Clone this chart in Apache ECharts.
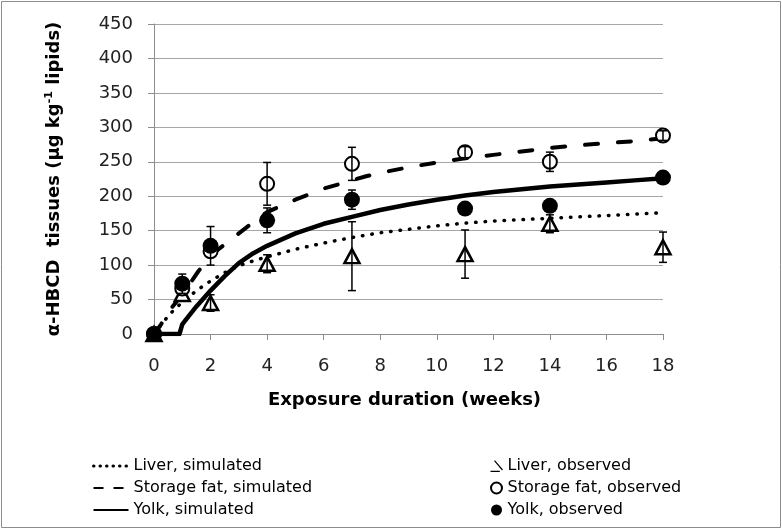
<!DOCTYPE html>
<html>
<head>
<meta charset="utf-8">
<script src="https://cdn.jsdelivr.net/npm/echarts@6/dist/echarts.min.js"></script>
<style>
html,body{margin:0;padding:0;background:#fff;}
#chart{width:782px;height:529px;}
</style>
</head>
<body>
<div id="chart"></div>
<script>
// Simulated curves [week, value]
const liverSim = [[0,0],[0.25,13],[0.5,26],[0.75,37],[1,46],[1.5,63],[2,77],[2.5,89],[3,99],[3.5,106],[4,112],[5,123],[6,132],[7,140],[8,147],[9,152],[10,157],[11,161],[12,164],[13,166],[14,168],[15,170],[16,172],[17,174],[18,176]];
const storageSim = [[0,0],[0.25,14],[0.5,32],[0.8,47],[1,58],[1.2,69],[1.55,90],[2,114],[2.5,130],[3,146],[3.5,162],[4,177],[4.5,186],[5,195],[5.5,203],[6,211],[6.5,217],[7,223],[7.5,229],[8,234],[9,242],[10,249],[11,255],[12,260],[13,265],[14,270],[15,274],[16,277],[17,280],[18,284]];
const yolkSim = [[0,0],[0.9,0],[1,14],[1.15,22],[1.5,40],[2,63],[2.5,84],[3,103],[3.5,117],[4,128],[4.5,137],[5,146],[5.5,153],[6,160],[7,170],[8,180],[9,188],[10,195],[11,201],[12,206],[13,210],[14,214],[15,217],[16,220],[17,223],[18,226]];

// Observed values
const obsWeeks = [0, 1, 2, 4, 7, 11, 14, 18];
const liverObs = [0, 58, 45, 102, 113, 116, 160, 126];
const liverErr = [0, 0, 12, 13, 50, 35, 13, 22];
const fatObs   = [0, 66, 120, 218, 247, 264, 250, 288];
const fatErr   = [0, 0, 0, 31, 24, 8, 14, 7];
const yolkObs  = [0, 73, 128, 165, 195, 182, 186, 227];
const yolkErr  = [0, 14, 28, 18, 14, 0, 0, 0];

const xTickInterval = 2;
const yTickInterval = 50;

const pairs = (xs, ys) => xs.map((x, i) => [x, ys[i]]);
const errData = [];
[[liverObs, liverErr], [fatObs, fatErr], [yolkObs, yolkErr]].forEach(([v, e]) => {
  obsWeeks.forEach((x, i) => { if (e[i] > 0) errData.push([x, v[i] - e[i], v[i] + e[i]]); });
});

const FONT = 'DejaVu Sans';
const legendText = {fontFamily: FONT, fontSize: 16, color: '#000', lineHeight: 16};
const chart = echarts.init(document.getElementById('chart'), null, {renderer: 'canvas'});
chart.setOption({
  animation: false,
  backgroundColor: '#fff',
  graphic: [{
    type: 'rect', shape: {x: 1.5, y: 1.5, width: 779, height: 526},
    style: {fill: 'none', stroke: '#8c8c8c', lineWidth: 1}, silent: true, z: -1
  }],
  grid: {left: 154, top: 24, width: 509, height: 310},
  xAxis: {
    type: 'value', min: 0, max: 18, interval: xTickInterval,
    name: 'Exposure duration (weeks)', nameLocation: 'middle', nameGap: 57, nameMoveOverlap: false,
    nameTextStyle: {fontFamily: FONT, fontWeight: 'bold', fontSize: 18, color: '#000', padding: [0, 8, 0, 0]},
    axisLine: {lineStyle: {color: '#8c8c8c', width: 1}},
    axisTick: {show: true, length: 6, lineStyle: {color: '#8c8c8c'}},
    axisLabel: {fontFamily: FONT, fontSize: 18, color: '#222', margin: 23},
    splitLine: {show: false}
  },
  yAxis: {
    type: 'value', min: 0, max: 450, interval: yTickInterval,
    name: '{t|α-HBCD  tissues (μg kg}{s|-1}{t| lipids)}', nameLocation: 'middle', nameGap: 90, nameMoveOverlap: false,
    nameTextStyle: {
      rich: {
        t: {fontFamily: FONT, fontWeight: 'bold', fontSize: 18, color: '#000'},
        s: {fontFamily: FONT, fontWeight: 'bold', fontSize: 11, color: '#000', verticalAlign: 'top', padding: [0, 0, 9, 0]}
      }
    },
    axisLine: {show: true, lineStyle: {color: '#8c8c8c', width: 1}},
    axisTick: {show: true, length: 6, lineStyle: {color: '#8c8c8c'}},
    axisLabel: {fontFamily: FONT, fontSize: 18, color: '#222', margin: 21},
    splitLine: {lineStyle: {color: '#a6a6a6', width: 1}}
  },
  legend: [{
    data: [
      {name: 'Liver, simulated', lineStyle: {type: [0.5, 6], width: 3}},
      {name: 'Storage fat, simulated', lineStyle: {type: [10, 10], cap: 'butt'}},
      {name: 'Yolk, simulated'}
    ],
    orient: 'vertical', left: 92, top: 458, padding: 0, itemWidth: 35, itemHeight: 14, itemGap: 6,
    itemStyle: {color: 'transparent', borderWidth: 0, opacity: 0},
    textStyle: legendText
  }, {
    data: [
      {name: 'Liver, observed', icon: 'path://M0,10 L7,10 M3,2 L9,9', itemStyle: {color: 'none', borderColor: '#000', borderWidth: 1.2}},
      {name: 'Storage fat, observed'},
      {name: 'Yolk, observed'}
    ],
    orient: 'vertical', left: 488, top: 458, padding: 0, itemWidth: 12, itemHeight: 11, itemGap: 6,
    textStyle: legendText
  }],
  series: [{
    name: 'Liver, simulated', type: 'line', data: liverSim, symbol: 'none', z: 2,
    lineStyle: {color: '#000', width: 3.5, type: [0.5, 9], cap: 'round'}, itemStyle: {color: '#000'}
  }, {
    name: 'Storage fat, simulated', type: 'line', data: storageSim, symbol: 'none', z: 2,
    lineStyle: {color: '#000', width: 4, type: [13, 20], cap: 'round'}, itemStyle: {color: '#000'}
  }, {
    name: 'Yolk, simulated', type: 'line', data: yolkSim, symbol: 'none', z: 2,
    lineStyle: {color: '#000', width: 4.5, join: 'round'}, itemStyle: {color: '#000'}
  }, {
    name: 'Liver, observed', type: 'scatter', data: pairs(obsWeeks, liverObs), symbol: 'triangle', symbolSize: [15, 14], z: 3,
    itemStyle: {color: '#fff', borderColor: '#000', borderWidth: 2.5, opacity: 1}
  }, {
    name: 'Storage fat, observed', type: 'scatter', data: pairs(obsWeeks, fatObs), symbol: 'circle', symbolSize: 14, z: 3,
    itemStyle: {color: '#fff', borderColor: '#000', borderWidth: 2, opacity: 1}
  }, {
    name: 'Yolk, observed', type: 'scatter', data: pairs(obsWeeks, yolkObs), symbol: 'circle', symbolSize: 16, z: 3,
    itemStyle: {color: '#000', opacity: 1}
  }, {
    name: 'errors', type: 'custom', data: errData, z: 4, silent: true,
    renderItem: function (params, api) {
      const x = api.value(0);
      const lo = api.coord([x, api.value(1)]);
      const hi = api.coord([x, api.value(2)]);
      const w = 4;
      const st = {stroke: '#000', lineWidth: 1.5, fill: 'none'};
      return {type: 'group', children: [
        {type: 'line', shape: {x1: lo[0], y1: lo[1], x2: hi[0], y2: hi[1]}, style: st},
        {type: 'line', shape: {x1: lo[0] - w, y1: lo[1], x2: lo[0] + w, y2: lo[1]}, style: st},
        {type: 'line', shape: {x1: hi[0] - w, y1: hi[1], x2: hi[0] + w, y2: hi[1]}, style: st}
      ]};
    },
    encode: {x: 0, y: [1, 2]}
  }]
});
</script>
</body>
</html>
